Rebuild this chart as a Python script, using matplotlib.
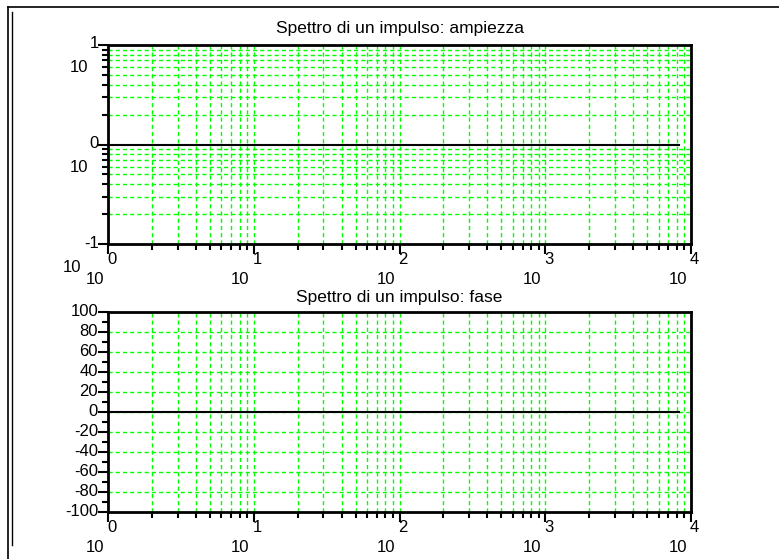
import matplotlib
matplotlib.use('Agg')
import matplotlib.pyplot as plt
from matplotlib.lines import Line2D

plt.rcParams['font.family'] = ['Liberation Sans', 'DejaVu Sans']

# impulse spectrum: flat amplitude, zero phase
freq = [1, 10, 100, 1000, 8280]
ampiezza = [1, 1, 1, 1, 1]
fase = [0, 0, 0, 0, 0]

x_exp = ['0', '1', '2', '3', '4']
y_exp_amp = ['1', '0', '-1']
y_ticks_fase = [-100, -80, -60, -40, -20, 0, 20, 40, 60, 80, 100]

W, H = 779, 559
fig = plt.figure(figsize=(W / 100, H / 100), dpi=100)

green = (0, 1, 0)
gkw = dict(color=green, linestyle=(0, (3, 2.2)), linewidth=1.0, zorder=1)
FS = 12


def pos(l, t, r, b):
    return [l / W, 1 - b / H, (r - l) / W, (b - t) / H]


def style(ax):
    for s in ax.spines.values():
        s.set_linewidth(2)
        s.set_zorder(5)
    ax.tick_params(which='both', direction='out', top=False, right=False,
                   labelbottom=False, labelleft=False, width=1.5)
    ax.tick_params(which='major', length=7.5)
    ax.tick_params(which='minor', length=4.5)


def minor_log(lo, hi):
    out = []
    d = lo
    while d < hi:
        out += [k * d for k in range(2, 10)]
        d *= 10
    return out


def x_labels(ax):
    for i, e in enumerate(x_exp):
        xv = 10 ** i
        ax.annotate(e, (xv, 0), xycoords=('data', 'axes fraction'),
                    xytext=(-1, -15), textcoords='offset pixels',
                    ha='left', va='center', fontsize=FS)
        ax.annotate('10', (xv, 0), xycoords=('data', 'axes fraction'),
                    xytext=(-4, -36), textcoords='offset pixels',
                    ha='right', va='center', fontsize=FS)


xminor = minor_log(1, 1e4)

# ---- amplitude
ax1 = fig.add_axes(pos(108, 45, 691, 244))
ax1.set_xscale('log')
ax1.set_yscale('log')
ax1.set_xlim(1, 1e4)
ax1.set_ylim(0.1, 10)
style(ax1)
ax1.set_xticks([1, 10, 100, 1000, 10000])
ax1.set_xticks(xminor, minor=True)
ax1.set_yticks([0.1, 1, 10])
yminor = minor_log(0.1, 10)
ax1.set_yticks(yminor, minor=True)
for xv in xminor + [10, 100, 1000]:
    ax1.axvline(xv, **gkw)
for yv in yminor:
    ax1.axhline(yv, **gkw)
ax1.plot(freq, ampiezza, color='black', linewidth=1.5, zorder=3)
ax1.set_title('Spettro di un impulso: ampiezza', fontsize=12.5, pad=9)
x_labels(ax1)
for e, yv in zip(y_exp_amp, [10, 1, 0.1]):
    ax1.annotate(e, (1, yv), xycoords='data', xytext=(-9, 1),
                 textcoords='offset pixels', ha='right', va='center',
                 fontsize=FS)
    shift = -27 if e.startswith('-') else -20
    ax1.annotate('10', (1, yv), xycoords='data', xytext=(shift, -23),
                 textcoords='offset pixels', ha='right', va='center',
                 fontsize=FS)

# ---- phase
ax2 = fig.add_axes(pos(108, 312, 691, 512))
ax2.set_xscale('log')
ax2.set_xlim(1, 1e4)
ax2.set_ylim(-100, 100)
style(ax2)
ax2.set_xticks([1, 10, 100, 1000, 10000])
ax2.set_xticks(xminor, minor=True)
ax2.set_yticks(y_ticks_fase)
ax2.set_yticks(list(range(-90, 100, 20)), minor=True)
for xv in xminor + [10, 100, 1000]:
    ax2.axvline(xv, **gkw)
for yv in y_ticks_fase[1:-1]:
    ax2.axhline(yv, **gkw)
ax2.plot(freq, fase, color='black', linewidth=1.5, zorder=3)
ax2.set_title('Spettro di un impulso: fase', fontsize=12.5, pad=7)
x_labels(ax2)
for yv in y_ticks_fase:
    ax2.annotate(str(yv), (1, yv), xycoords='data', xytext=(-10, 0),
                 textcoords='offset pixels', ha='right', va='center',
                 fontsize=FS)

# window frame
fig.add_artist(Line2D([8 / W, 1], [1 - 7 / H, 1 - 7 / H], color='black',
                      linewidth=1.2, transform=fig.transFigure))
fig.add_artist(Line2D([8 / W, 8 / W], [0, 1 - 7 / H], color='black',
                      linewidth=1.2, transform=fig.transFigure))
fig.add_artist(Line2D([12 / W, 12 / W], [1 - 545 / H, 1 - 12 / H],
                      color='black', linewidth=1.0, transform=fig.transFigure))

fig.savefig('out.png', dpi=100)
